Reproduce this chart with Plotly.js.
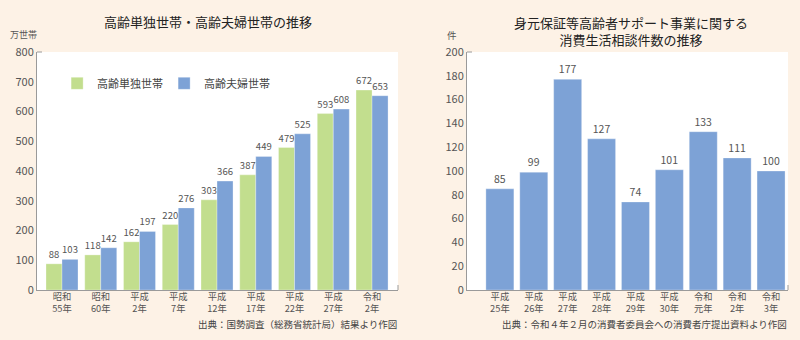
<!DOCTYPE html>
<html>
<head>
<meta charset="utf-8">
<script src="https://cdn.plot.ly/plotly-3.0.1.min.js"></script>
<style>html,body{margin:0;padding:0;background:#fdf2e6;}#chart{width:800px;height:340px;}</style>
</head>
<body>
<div id="chart"></div>
<script>
// ---- Data ----
const yearsLeft = ['昭和<br>55年', '昭和<br>60年', '平成<br>2年', '平成<br>7年', '平成<br>12年', '平成<br>17年', '平成<br>22年', '平成<br>27年', '令和<br>2年'];
const singleHouseholds = [88, 118, 162, 220, 303, 387, 479, 593, 672];
const coupleHouseholds = [103, 142, 197, 276, 366, 449, 525, 608, 653];
const leftTicks = [0, 100, 200, 300, 400, 500, 600, 700, 800];

const yearsRight = ['平成<br>25年', '平成<br>26年', '平成<br>27年', '平成<br>28年', '平成<br>29年', '平成<br>30年', '令和<br>元年', '令和<br>2年', '令和<br>3年'];
const consultations = [85, 99, 177, 127, 74, 101, 133, 111, 100];
const rightTicks = [0, 20, 40, 60, 80, 100, 120, 140, 160, 180, 200];

const seriesNames = ['高齢単独世帯', '高齢夫婦世帯'];

// ---- Style ----
const FONT = '"Noto Sans CJK JP", "Noto Sans", sans-serif';
const GREEN = '#c2de8e';
const BLUE = '#7da2d6';
const AXIS = '#9a9a9a';
const TXT = '#555555';

const traces = [
  {
    type: 'bar', name: seriesNames[0], x: yearsLeft, y: singleHouseholds,
    xaxis: 'x', yaxis: 'y',
    marker: {color: GREEN, line: {color: 'rgba(255,255,255,0.5)', width: 0.6}},
    text: singleHouseholds.map(String), textposition: 'outside', cliponaxis: false,
    textfont: {family: FONT, size: 9.5, color: TXT}, hoverinfo: 'none'
  },
  {
    type: 'bar', name: seriesNames[1], x: yearsLeft, y: coupleHouseholds,
    xaxis: 'x', yaxis: 'y',
    marker: {color: BLUE, line: {color: 'rgba(255,255,255,0.5)', width: 0.6}},
    text: coupleHouseholds.map(String), textposition: 'outside', cliponaxis: false,
    textfont: {family: FONT, size: 9.5, color: TXT}, hoverinfo: 'none'
  },
  {
    type: 'bar', name: '件数', x: yearsRight, y: consultations,
    xaxis: 'x2', yaxis: 'y2', showlegend: false,
    marker: {color: BLUE, line: {color: 'rgba(255,255,255,0.5)', width: 0.6}},
    text: consultations.map(String), textposition: 'outside', cliponaxis: false,
    textfont: {family: FONT, size: 10.5, color: TXT}, hoverinfo: 'none'
  }
];

const axisCommon = {
  showgrid: false, zeroline: false, showline: true, linecolor: AXIS, linewidth: 1,
  ticks: '', tickfont: {family: FONT, size: 11, color: TXT}, fixedrange: true
};

const layout = {
  width: 800, height: 340,
  margin: {l: 0, r: 0, t: 0, b: 0},
  paper_bgcolor: '#fdf2e6',
  plot_bgcolor: '#ffffff',
  font: {family: FONT, color: TXT},
  barmode: 'group',
  bargap: 0.174,
  bargroupgap: 0,
  showlegend: true,
  legend: {
    orientation: 'h', x: 0.0714, y: 0.755, xanchor: 'left', yanchor: 'middle',
    bgcolor: 'rgba(0,0,0,0)', font: {family: FONT, size: 11, color: '#444'},
    itemwidth: 30, tracegroupgap: 0, entrywidth: 62, entrywidthmode: 'pixels'
  },
  xaxis: Object.assign({}, axisCommon, {
    domain: [37 / 800, 398 / 800], anchor: 'y', type: 'category',
    range: [-0.645, 8.67], tickfont: {family: FONT, size: 9.3, color: TXT},
    ticklabelstandoff: -2
  }),
  yaxis: Object.assign({}, axisCommon, {
    domain: [50 / 340, 288 / 340], anchor: 'x', range: [0, 800],
    tickvals: leftTicks, ticktext: leftTicks.map(String)
  }),
  xaxis2: Object.assign({}, axisCommon, {
    domain: [467 / 800, 788 / 800], anchor: 'y2', type: 'category',
    range: [-0.97, 8.5], tickfont: {family: FONT, size: 9.3, color: TXT},
    ticklabelstandoff: -2
  }),
  yaxis2: Object.assign({}, axisCommon, {
    domain: [50 / 340, 288 / 340], anchor: 'x2', range: [0, 200],
    tickvals: rightTicks, ticktext: rightTicks.map(String)
  }),
  shapes: [
    {type: 'line', xref: 'x domain', yref: 'y domain', x0: 0, x1: 5 / 361, y0: 1, y1: 1, line: {color: AXIS, width: 1}},
    {type: 'line', xref: 'x domain', yref: 'y domain', x0: 1, x1: 1, y0: 0, y1: 5 / 238, line: {color: AXIS, width: 1}},
    {type: 'line', xref: 'x2 domain', yref: 'y2 domain', x0: 0, x1: 5 / 321, y0: 1, y1: 1, line: {color: AXIS, width: 1}},
    {type: 'line', xref: 'x2 domain', yref: 'y2 domain', x0: 1, x1: 1, y0: 0, y1: 5 / 238, line: {color: AXIS, width: 1}}
  ],
  annotations: [
    {text: '高齢単独世帯・高齢夫婦世帯の推移', xref: 'paper', yref: 'paper', x: 208 / 800, y: (340 - 21) / 340,
     xanchor: 'center', yanchor: 'middle', showarrow: false, font: {family: FONT, size: 13, color: '#222'}},
    {text: '身元保証等高齢者サポート事業に関する<br>消費生活相談件数の推移', xref: 'paper', yref: 'paper', x: 631 / 800, y: (340 - 31) / 340,
     xanchor: 'center', yanchor: 'middle', showarrow: false, font: {family: FONT, size: 13, color: '#222'}},
    {text: '万世帯', xref: 'paper', yref: 'paper', x: 8 / 800, y: (340 - 35) / 340,
     xanchor: 'left', yanchor: 'middle', showarrow: false, font: {family: FONT, size: 9, color: TXT}},
    {text: '件', xref: 'paper', yref: 'paper', x: 452 / 800, y: (340 - 35) / 340,
     xanchor: 'center', yanchor: 'middle', showarrow: false, font: {family: FONT, size: 9.5, color: TXT}},
    {text: '出典：国勢調査（総務省統計局）結果より作図', xref: 'paper', yref: 'paper', x: 399 / 800, y: (340 - 324) / 340,
     xanchor: 'right', yanchor: 'middle', showarrow: false, font: {family: FONT, size: 9.5, color: '#444'}},
    {text: '出典：令和４年２月の消費者委員会への消費者庁提出資料より作図', xref: 'paper', yref: 'paper', x: 789 / 800, y: (340 - 324) / 340,
     xanchor: 'right', yanchor: 'middle', showarrow: false, font: {family: FONT, size: 9.5, color: '#444'}}
  ]
};

Plotly.newPlot('chart', traces, layout, {staticPlot: true, displayModeBar: false});
</script>
</body>
</html>
